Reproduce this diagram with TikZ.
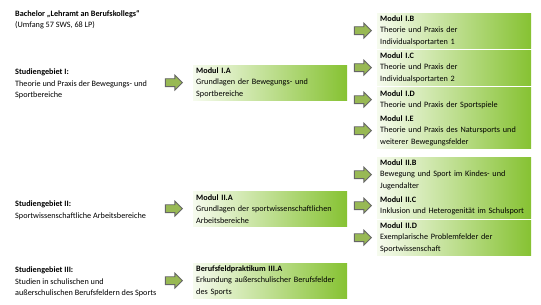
\documentclass[tikz,border=0pt]{standalone}
\usepackage{fontspec}
\setmainfont{Carlito}
\usetikzlibrary{shapes.arrows, positioning}

\definecolor{modgreen}{HTML}{86C232}
\definecolor{modlight}{HTML}{F6FBEE}
\definecolor{arrgreen}{HTML}{98B954}
\definecolor{arrgrey}{HTML}{666666}

\begin{document}
\begin{tikzpicture}[x=1pt, y=-1pt,
    font=\fontsize{8.2}{11.5}\selectfont,
    % Define the style for the module boxes
    modbox/.style={
        anchor=north west, left color=modlight, right color=modgreen,
        align=left, text width=148pt, inner xsep=3pt, inner ysep=2pt
    },
    twoline/.style={minimum height=25pt},
    threeline/.style={minimum height=35pt},
    area/.style={anchor=north west, align=left, inner sep=0pt},
    % Define the style for the block arrows
    blockarrow/.style={
        single arrow, draw=arrgrey, fill=arrgreen, line width=0.9pt,
        minimum height=17pt, inner xsep=0pt, inner ysep=3.5pt,
        single arrow head extend=3.5pt
    }
]

\useasboundingbox (0,0) rectangle (541,305);

% Left column: course and study areas
\node[area] (ba) at (15,10) {\textbf{Bachelor „Lehramt an Berufskollegs“}\\(Umfang 57 SWS, 68 LP)};
\node[area] (sgI) at (15,69) {\textbf{Studiengebiet I:}\\Theorie und Praxis der Bewegungs- und\\Sportbereiche};
\node[area] (sgII) at (15,201) {\textbf{Studiengebiet II:}\\Sportwissenschaftliche Arbeitsbereiche};
\node[area] (sgIII) at (15,267) {\textbf{Studiengebiet III:}\\Studien in schulischen und\\außerschulischen Berufsfeldern des Sports};

% Middle column
\node[modbox, threeline] (mIA) at (193,65) {\textbf{Modul I.A}\\Grundlagen der Bewegungs- und\\Sportbereiche};
\node[modbox, threeline] (mIIA) at (193,191) {\textbf{Modul II.A}\\Grundlagen der sportwissenschaftlichen\\Arbeitsbereiche};
\node[modbox, threeline] (pIIIA) at (193,263) {\textbf{Berufsfeldpraktikum III.A}\\Erkundung außerschulischer Berufsfelder\\des Sports};

% Right column
\node[modbox, threeline] (mIB) at (377,13) {\textbf{Modul I.B}\\Theorie und Praxis der\\Individualsportarten 1};
\node[modbox, threeline] (mIC) at (377,50) {\textbf{Modul I.C}\\Theorie und Praxis der\\Individualsportarten 2};
\node[modbox, twoline] (mID) at (377,87) {\textbf{Modul I.D}\\Theorie und Praxis der Sportspiele};
\node[modbox, threeline] (mIE) at (377,113) {\textbf{Modul I.E}\\Theorie und Praxis des Natursports und\\weiterer Bewegungsfelder};
\node[modbox, threeline] (mIIB) at (377,157) {\textbf{Modul II.B}\\Bewegung und Sport im Kindes- und\\Jugendalter};
\node[modbox, twoline] (mIIC) at (377,193) {\textbf{Modul II.C}\\\mbox{Inklusion und Heterogenität im Schulsport}};
\node[modbox, threeline] (mIID) at (377,220) {\textbf{Modul II.D}\\Exemplarische Problemfelder der\\Sportwissenschaft};

% Draw the block arrows
\foreach \m in {mIA, mIIA, pIIIA}
    \node[blockarrow, left=10pt of \m] (a\m) {};
\foreach \m in {mIB, mIC, mID, mIE, mIIB, mIIC, mIID}
    \node[blockarrow, left=5pt of \m] (a\m) {};

\end{tikzpicture}
\end{document}
